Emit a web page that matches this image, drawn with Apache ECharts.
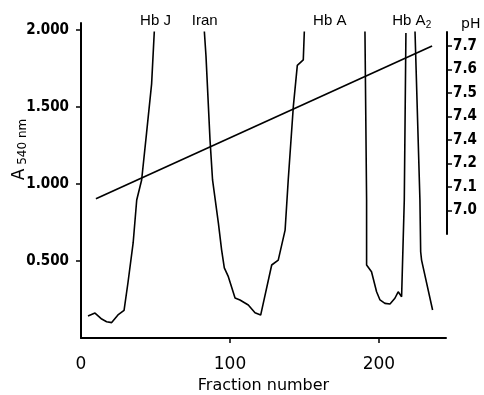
<!DOCTYPE html>
<html>
<head>
<meta charset="utf-8">
<script src="https://cdn.jsdelivr.net/npm/echarts@6/dist/echarts.min.js"></script>
<style>html,body{margin:0;padding:0;background:#fff}#c{width:484px;height:395px}</style>
</head>
<body>
<div id="c"></div>
<script>
// Absorbance (A540) vs fraction number; null marks off-scale gaps
const fractionNumber = [4.7, 9.4, 13.9, 17.2, 20.6, 24.8, 28.9, 31.5, 35, 37.4, 40.7, 44, 47.4, 49.2,
  null,
  82.8, 83.9, 86.6, 88.3, 92.2, 94.4, 96.2, 98.9, 103.4, 106.7, 112.3, 116.8, 120.6, 128, 132.4, 137, 139.1, 142.5, 145.2, 149.2, 149.9,
  null,
  190.6, 191.7, 191.7, 195, 198.4, 200.7, 204, 207.4, 210.7, 212.9, 215.2, 216.3, 217, 218.1,
  null,
  224.2, 227.5, 228, 228.6, 236];
const absorbance = [0.143, 0.162, 0.123, 0.106, 0.100, 0.150, 0.180, 0.357, 0.617, 0.896, 1.026, 1.33, 1.65, 1.99,
  null,
  1.99, 1.83, 1.286, 1.026, 0.747, 0.571, 0.455, 0.398, 0.26, 0.247, 0.214, 0.164, 0.149, 0.474, 0.506, 0.70, 1.026, 1.50, 1.77, 1.805, 1.99,
  null,
  1.99, 0.896, 0.474, 0.43, 0.30, 0.247, 0.225, 0.221, 0.258, 0.30, 0.268, 0.279, 0.896, 1.98,
  null,
  1.99, 0.896, 0.56, 0.506, 0.182];
// pH gradient
const phFraction = [10, 235];
const phValue = [7.05, 7.70];
// Tick labels
const xTicks = [0, 100, 200];
const aTicks = [0.5, 1.0, 1.5, 2.0];
const phTicks = [7.0, 7.1, 7.2, 7.3, 7.4, 7.5, 7.6, 7.7];
const phTickLabels = ['7.0', '7.1', '7.2', '7.4', '7.4', '7.5', '7.6', '7.7'];
// Peak labels
const peakNames = ['Hb J', 'Iran', 'Hb A', 'Hb A2'];
const peakFraction = [50, 83, 167, 222];

const absData = fractionNumber.map((f, i) => f === null ? '-' : [f, absorbance[i]]);
const phData = phFraction.map((f, i) => [f, phValue[i]]);

const numFont = '"Liberation Sans Narrow", "DejaVu Sans Condensed", sans-serif';
const chart = echarts.init(document.getElementById('c'), null, {renderer: 'canvas'});
const axisLine = {show: true, onZero: false, lineStyle: {color: '#000', width: 2}};
chart.setOption({
  animation: false,
  backgroundColor: '#fff',
  grid: [
    {left: 81, right: 38, top: 23, bottom: 57, containLabel: false, outerBoundsMode: 'none'},
    {left: 81, right: 37, top: 32, bottom: 161, containLabel: false, outerBoundsMode: 'none'}
  ],
  xAxis: [
    {type: 'value', gridIndex: 0, min: 0, max: 245,
      axisLine: axisLine,
      axisTick: {show: true, length: 5, customValues: [100, 200], lineStyle: {color: '#000', width: 1.5}},
      axisLabel: {customValues: xTicks, margin: 18, color: '#000', fontSize: 17, fontFamily: 'DejaVu Sans'},
      splitLine: {show: false},
      name: 'Fraction number', nameLocation: 'middle', nameGap: 40, nameMoveOverlap: false,
      nameTextStyle: {color: '#000', fontSize: 16, fontFamily: 'DejaVu Sans'}
    },
    {type: 'value', gridIndex: 1, min: 0, max: 245, show: false}
  ],
  yAxis: [
    {type: 'value', gridIndex: 0, min: 0, max: 2.045,
      axisLine: axisLine,
      axisTick: {show: true, length: 5, customValues: aTicks, lineStyle: {color: '#000', width: 1.5}},
      axisLabel: {customValues: aTicks, margin: 12, color: '#000', fontSize: 15, fontWeight: 'bold', fontFamily: numFont,
        formatter: v => v.toFixed(3)},
      splitLine: {show: false},
      name: '{a|A}{s| 540 nm}', nameLocation: 'middle', nameGap: 52, nameRotate: 90, nameMoveOverlap: false,
      nameTextStyle: {padding: [0, 0, 0, 62], rich: {
        a: {fontSize: 17, color: '#000', fontFamily: 'DejaVu Sans'},
        s: {fontSize: 12, color: '#000', fontFamily: 'DejaVu Sans', verticalAlign: 'bottom', padding: [6, 0, 0, 0]}
      }}
    },
    {type: 'value', gridIndex: 1, position: 'right', min: 6.9, max: 7.76,
      axisLine: axisLine,
      axisTick: {show: true, length: 5, customValues: phTicks, lineStyle: {color: '#000', width: 1.5}},
      axisLabel: {customValues: phTicks, margin: 6, color: '#000', fontSize: 15, fontWeight: 'bold', fontFamily: numFont,
        formatter: v => { const i = phTicks.findIndex(t => Math.abs(t - v) < 1e-6); return i >= 0 ? phTickLabels[i] : ''; }},
      splitLine: {show: false},
      name: 'pH', nameLocation: 'end', nameGap: 1, nameMoveOverlap: false,
      nameTextStyle: {color: '#000', fontSize: 14, fontFamily: 'DejaVu Sans', align: 'left', padding: [0, 0, 0, 14]}
    }
  ],
  series: [
    {type: 'line', xAxisIndex: 0, yAxisIndex: 0, data: absData, showSymbol: false, connectNulls: false,
      lineStyle: {color: '#000', width: 1.6}, silent: true},
    {type: 'line', xAxisIndex: 1, yAxisIndex: 1, data: phData, showSymbol: false,
      lineStyle: {color: '#000', width: 1.7}, silent: true}
  ]
});

const graphics = peakNames.map((n, i) => {
  const px = chart.convertToPixel({xAxisIndex: 0}, peakFraction[i]);
  const isA2 = n === 'Hb A2';
  return {
    type: 'text', x: px, y: 21,
    style: {
      text: isA2 ? '{t|Hb A}{s|2}' : n,
      fill: '#000', font: '15px "Liberation Sans", sans-serif',
      align: 'center', verticalAlign: 'middle',
      rich: isA2 ? {t: {fontSize: 15, fontFamily: 'Liberation Sans'}, s: {fontSize: 10, fontFamily: 'Liberation Sans', padding: [8, 0, 0, 0]}} : undefined
    }
  };
});
chart.setOption({graphic: graphics});
</script>
</body>
</html>
